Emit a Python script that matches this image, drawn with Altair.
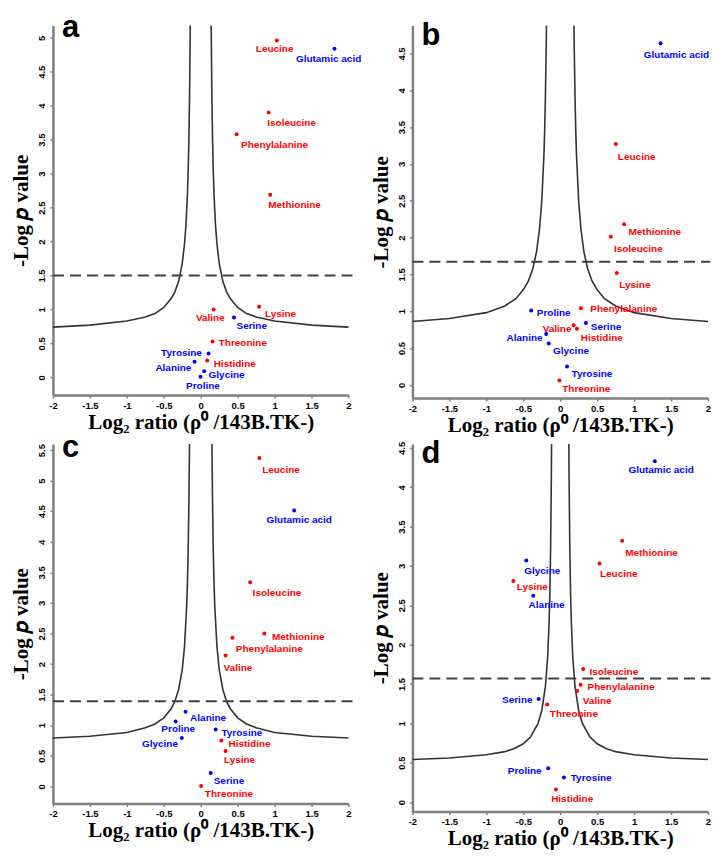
import altair as alt
import pandas as pd

ESSENTIAL = ["Leucine", "Isoleucine", "Phenylalanine", "Methionine",
             "Valine", "Lysine", "Threonine", "Histidine"]

X_TICKS = [-2, -1.5, -1, -0.5, 0, 0.5, 1, 1.5, 2]

# ---------------- panel a ----------------
A_NAMES = ["Leucine", "Glutamic acid", "Isoleucine", "Phenylalanine", "Methionine",
           "Valine", "Lysine", "Serine", "Threonine", "Tyrosine", "Histidine",
           "Alanine", "Glycine", "Proline"]
A_X = [1.03, 1.81, 0.92, 0.485, 0.94, 0.174, 0.79, 0.45, 0.16, 0.106, 0.088, -0.084, 0.047, -0.003]
A_Y = [4.96, 4.84, 3.90, 3.58, 2.69, 1.00, 1.04, 0.88, 0.53, 0.35, 0.25, 0.23, 0.09, 0.01]
A_LX = [1.0, 1.73, 1.23, 1.0, 1.27, 0.13, 1.08, 0.69, 0.57, -0.26, 0.46, -0.37, 0.35, 0.03]
A_LY = [4.83, 4.69, 3.75, 3.42, 2.54, 0.88, 0.94, 0.75, 0.51, 0.36, 0.20, 0.14, 0.03, -0.12]
A_THRESH = 1.50
A_CURVE_X = [0.1415, 0.15, 0.16, 0.17, 0.18, 0.2, 0.22, 0.25, 0.3, 0.35, 0.4, 0.5, 0.62, 0.75, 1.0, 1.5, 2.0]
A_CURVE_Y = [5.18, 4.22, 3.51, 3.03, 2.69, 2.24, 1.96, 1.68, 1.41, 1.26, 1.16, 1.03, 0.94, 0.89, 0.83, 0.77, 0.74]
A_YDOM = [-0.26, 5.18]
A_YTICKS = [0, 0.5, 1, 1.5, 2, 2.5, 3, 3.5, 4, 4.5, 5]

# ---------------- panel b ----------------
B_NAMES = ["Glutamic acid", "Leucine", "Methionine", "Isoleucine", "Lysine",
           "Phenylalanine", "Proline", "Valine", "Histidine", "Serine", "Alanine",
           "Glycine", "Tyrosine", "Threonine"]
B_X = [1.358, 0.752, 0.864, 0.685, 0.765, 0.28, -0.393, 0.182, 0.226, 0.348, -0.19, -0.155, 0.092, -0.011]
B_Y = [4.64, 3.27, 2.18, 2.01, 1.52, 1.04, 1.01, 0.81, 0.76, 0.84, 0.69, 0.56, 0.25, 0.06]
B_LX = [1.573, 1.035, 1.28, 1.057, 1.01, 0.86, -0.088, -0.043, 0.563, 0.62, -0.482, 0.146, 0.43, 0.353]
B_LY = [4.48, 3.10, 2.07, 1.85, 1.35, 1.03, 0.98, 0.76, 0.63, 0.78, 0.63, 0.46, 0.15, -0.06]
B_THRESH = 1.67
B_CURVE_X = [0.186, 0.19, 0.2, 0.21, 0.22, 0.25, 0.28, 0.32, 0.37, 0.43, 0.5, 0.6, 0.75, 1.0, 1.5, 2.0]
B_CURVE_Y = [4.88, 4.56, 3.93, 3.47, 3.13, 2.49, 2.12, 1.81, 1.58, 1.41, 1.29, 1.17, 1.07, 0.98, 0.90, 0.86]
B_YDOM = [-0.18, 4.88]
B_YTICKS = [0, 0.5, 1, 1.5, 2, 2.5, 3, 3.5, 4, 4.5]

# ---------------- panel c ----------------
C_NAMES = ["Leucine", "Glutamic acid", "Isoleucine", "Methionine", "Phenylalanine",
           "Valine", "Alanine", "Proline", "Tyrosine", "Glycine", "Histidine",
           "Lysine", "Serine", "Threonine"]
C_X = [0.794, 1.265, 0.669, 0.861, 0.43, 0.336, -0.206, -0.34, 0.202, -0.256, 0.279, 0.336, 0.135, 0.005]
C_Y = [5.37, 4.51, 3.34, 2.50, 2.43, 2.14, 1.22, 1.06, 0.93, 0.79, 0.75, 0.58, 0.22, 0.005]
C_LX = [1.086, 1.333, 1.032, 1.32, 0.929, 0.503, 0.10, -0.304, 0.557, -0.552, 0.66, 0.525, 0.382, 0.382]
C_LY = [5.17, 4.36, 3.16, 2.45, 2.24, 1.94, 1.11, 0.93, 0.875, 0.70, 0.69, 0.43, 0.09, -0.12]
C_THRESH = 1.39
C_CURVE_X = [0.152, 0.16, 0.17, 0.18, 0.19, 0.22, 0.25, 0.3, 0.35, 0.4, 0.5, 0.62, 0.75, 1.0, 1.5, 2.0]
C_CURVE_Y = [5.6, 4.63, 3.85, 3.32, 2.95, 2.28, 1.91, 1.58, 1.39, 1.27, 1.12, 1.02, 0.96, 0.88, 0.82, 0.79]
C_YDOM = [-0.28, 5.6]
C_YTICKS = [0, 0.5, 1, 1.5, 2, 2.5, 3, 3.5, 4, 4.5, 5, 5.5]

# ---------------- panel d ----------------
D_NAMES = ["Glutamic acid", "Methionine", "Leucine", "Glycine", "Lysine", "Alanine",
           "Isoleucine", "Phenylalanine", "Valine", "Serine", "Threonine",
           "Proline", "Tyrosine", "Histidine"]
D_X = [1.28, 0.838, 0.532, -0.459, -0.635, -0.365, 0.311, 0.276, 0.23, -0.292, -0.176, -0.162, 0.05, -0.058]
D_Y = [4.33, 3.32, 3.03, 3.07, 2.81, 2.62, 1.69, 1.49, 1.41, 1.31, 1.24, 0.43, 0.31, 0.16]
D_LX = [1.365, 1.235, 0.793, -0.243, -0.378, -0.184, 0.726, 0.824, 0.5, -0.581, 0.185, -0.481, 0.419, 0.162]
D_LY = [4.22, 3.16, 2.90, 2.94, 2.73, 2.50, 1.655, 1.46, 1.28, 1.30, 1.12, 0.39, 0.30, 0.04]
D_THRESH = 1.57
D_CURVE_X = [0.117, 0.12, 0.13, 0.14, 0.15, 0.17, 0.2, 0.25, 0.3, 0.4, 0.5, 0.62, 0.75, 1.0, 1.5, 2.0]
D_CURVE_Y = [4.55, 4.12, 3.21, 2.66, 2.30, 1.84, 1.47, 1.16, 1.00, 0.83, 0.74, 0.68, 0.64, 0.60, 0.56, 0.54]
D_YDOM = [-0.12, 4.55]
D_YTICKS = [0, 0.5, 1, 1.5, 2, 2.5, 3, 3.5, 4, 4.5]

RED = "#ff0000"
BLUE = "#0000ff"
AXIS_GRAY = "#7f7f7f"
PANEL_W = 296


def panel(letter, names, xs, ys, lxs, lys, thresh, rule_end, cx, cy, ydom, yticks, height, letter_dy):
    pts = pd.DataFrame({"name": names, "x": xs, "y": ys, "lx": lxs, "ly": lys})
    pts["cls"] = ["ess" if n in ESSENTIAL else "non" for n in names]
    curve = pd.DataFrame({
        "x": [-v for v in cx] + list(cx),
        "y": list(cy) + list(cy),
        "branch": ["L"] * len(cx) + ["R"] * len(cx),
    })
    xscale = alt.Scale(domain=[-2, 2], nice=False, zero=False)
    yscale = alt.Scale(domain=ydom, nice=False, zero=False)
    xaxis = alt.Axis(
        values=X_TICKS, labelExpr="'' + datum.value", grid=False,
        title="Log\u2082 ratio (\u03c1\u2070 /143B.TK-)",
        titleFont="Liberation Serif", titleFontSize=21, titleFontWeight="bold",
        titleColor="black", titlePadding=2,
        labelFont="Liberation Sans", labelFontSize=9.5, labelFontWeight="bold",
        labelColor="black", labelPadding=2, labelFlush=False, labelOverlap=False,
        tickSize=3, tickColor=AXIS_GRAY, tickWidth=1.5,
        domainColor=AXIS_GRAY, domainWidth=2.5,
    )
    yaxis = alt.Axis(
        values=yticks, labelExpr="'' + datum.value", grid=False,
        title="-Log \U0001D45D value",
        titleFont="Liberation Serif", titleFontSize=21, titleFontWeight="bold",
        titleColor="black", titlePadding=5,
        labelFont="Liberation Sans", labelFontSize=9.5, labelFontWeight="bold",
        labelColor="black", labelAngle=270, labelAlign="center", labelBaseline="bottom",
        labelPadding=3, labelFlush=False, labelOverlap=False,
        tickSize=3, tickColor=AXIS_GRAY, tickWidth=1.5,
        domainColor=AXIS_GRAY, domainWidth=2.5,
    )
    color = alt.Color("cls:N", scale=alt.Scale(domain=["ess", "non"], range=[RED, BLUE]), legend=None)

    def X(field):
        return alt.X(field, type="quantitative", scale=xscale, axis=xaxis)

    def Y(field):
        return alt.Y(field, type="quantitative", scale=yscale, axis=yaxis)

    curve_layer = alt.Chart(curve).mark_line(color="#333333", strokeWidth=1.6).encode(
        x=X("x"), y=Y("y"), detail="branch:N",
    )
    rule_df = pd.DataFrame({"x": [-2.0], "x2": [rule_end], "y": [thresh]})
    rule_layer = alt.Chart(rule_df).mark_rule(
        color="#404040", strokeWidth=2, strokeDash=[11, 6]
    ).encode(x=X("x"), x2="x2:Q", y=Y("y"))
    point_layer = alt.Chart(pts).mark_circle(size=16, opacity=1).encode(
        x=X("x"), y=Y("y"), color=color
    )
    label_layer = alt.Chart(pts).mark_text(
        font="Liberation Sans", fontSize=10, fontWeight="bold", align="center", baseline="middle"
    ).encode(x=X("lx"), y=Y("ly"), text="name:N", color=color)
    letter_df = pd.DataFrame({"t": [letter], "x": [-2.0], "y": [ydom[1]]})
    letter_layer = alt.Chart(letter_df).mark_text(
        font="Liberation Sans", fontSize=31, fontWeight="bold", align="left",
        baseline="alphabetic", dx=9, dy=letter_dy, color="black"
    ).encode(x=X("x"), y=Y("y"), text="t:N")

    return alt.layer(curve_layer, rule_layer, point_layer, label_layer, letter_layer).properties(
        width=PANEL_W, height=height
    )


pa = panel("a", A_NAMES, A_X, A_Y, A_LX, A_LY, A_THRESH, 2.08, A_CURVE_X, A_CURVE_Y, A_YDOM, A_YTICKS, 370, 11)
pb = panel("b", B_NAMES, B_X, B_Y, B_LX, B_LY, B_THRESH, 2.03, B_CURVE_X, B_CURVE_Y, B_YDOM, B_YTICKS, 373, 19)
pc = panel("c", C_NAMES, C_X, C_Y, C_LX, C_LY, C_THRESH, 2.08, C_CURVE_X, C_CURVE_Y, C_YDOM, C_YTICKS, 360, 13)
pd_ = panel("d", D_NAMES, D_X, D_Y, D_LX, D_LY, D_THRESH, 2.03, D_CURVE_X, D_CURVE_Y, D_YDOM, D_YTICKS, 368, 19)

chart = alt.concat(
    pa, pb, pc, pd_, columns=2, spacing={"row": 46, "column": 64}, bounds="flush"
).properties(
    padding={"left": 3, "top": 3, "right": 0, "bottom": 0}
).configure(
    background="white",
    axis=alt.AxisConfig(labelOverlap=False),
    view=alt.ViewConfig(strokeOpacity=0, strokeWidth=0),
)

chart.save("out.html", embed_options={"renderer": "svg", "actions": False})
